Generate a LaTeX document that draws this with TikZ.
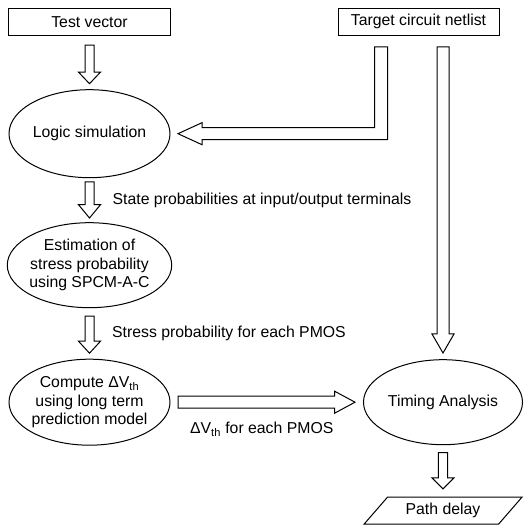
\documentclass[tikz,border=0pt]{standalone}
\usepackage{fontspec}
\setmainfont{Liberation Sans}
\usetikzlibrary{positioning,calc,shapes.geometric}
\tikzset{main base/.style={draw,line width=1pt,text centered,outer sep=0pt}, }
\tikzset{main box/.style={rectangle,main base,
    minimum width=161pt,minimum height=27pt,inner sep=0pt}, }
\tikzset{main ell/.style={ellipse,main base,align=center,
    inner xsep=-2pt,inner ysep=0pt,minimum width=161pt,minimum height=#1}, }
\tikzset{main ell/.default=86pt}
\tikzset{data slant/.initial=11.7pt}
\tikzset{main data/.style={rectangle,outer sep=0pt,
    minimum width=134.5pt,minimum height=27pt,inner sep=0pt,
    append after command={
      \pgfextra{
        \draw[line width=1pt,line join=miter]
        ($(\tikzlastnode.south west)-(\pgfkeysvalueof{/tikz/data slant},0)$) --
        ($(\tikzlastnode.north west)+(\pgfkeysvalueof{/tikz/data slant},0)$) --
        ($(\tikzlastnode.north east)+(\pgfkeysvalueof{/tikz/data slant},0)$) --
        ($(\tikzlastnode.south east)-(\pgfkeysvalueof{/tikz/data slant},0)$) -- cycle;
      }
    }}, }
\tikzset{hollow/.style={draw,line width=1pt,fill=white,line join=miter}}
\tikzset{lbl/.style={inner sep=0pt}, }
% #1 start, #2 tip, #3 half shaft, #4 head length
\newcommand{\hollowdown}[4]{%
  \draw[hollow] let \p1=(#1), \p2=(#2) in
    ({\x2-#3},\y1) -- ({\x2+#3},\y1) -- ({\x2+#3},{\y2+#4})
    -- ({\x2+11},{\y2+#4}) -- (\x2,\y2) -- ({\x2-11},{\y2+#4})
    -- ({\x2-#3},{\y2+#4}) -- cycle;}
\newcommand{\hollowright}[4]{%
  \draw[hollow] let \p1=(#1), \p2=(#2) in
    (\x1,{\y2+#3}) -- ({\x2-#4},{\y2+#3}) -- ({\x2-#4},{\y2+11})
    -- (\x2,\y2) -- ({\x2-#4},{\y2-11}) -- ({\x2-#4},{\y2-#3})
    -- (\x1,{\y2-#3}) -- cycle;}

\begin{document}
\begin{tikzpicture}[x=1pt,y=1pt,
    every node/.style={font=\fontsize{15.8}{18.5}\selectfont}]
  \useasboundingbox (0,0) rectangle (531,528);
    \node[main box,minimum width=162pt] (1) at (89.5,506.3) {Test vector};
    \node[main box] (2) [right=167.5pt of 1] {Target circuit netlist};

    \node[main ell=88pt] (3) [below=54.5pt of 1] {Logic simulation};
    \node[main ell=85pt] (4) [below=45pt of 3] {Estimation of\\stress probability\\using SPCM-A-C};
    \node[main ell] (5) [below=51.5pt of 4] {Compute ΔV\textsubscript{th}\\using long term\\prediction model};

    \node[main ell=85pt,minimum width=159pt] (6) [right=193.5pt of 5] {Timing Analysis};
    \node[main data] (7) [below=52.5pt of 6] {Path delay};

    \node[lbl,anchor=west] (8) at ($(3.south)!.5!(4.north)+(23,0)$) {State probabilities at input/output terminals};
    \node[lbl,anchor=west] (9) at ($(4.south)!.5!(5.north)+(22.5,0)$) {Stress probability for each PMOS};
    \node[lbl] (10) at ($(5.east)!.5!(6.west)+(-5,-27)$) {ΔV\textsubscript{th} for each PMOS};
%
    \hollowdown{$(1.south)+(0,-10)$}{$(3.north)+(0,6)$}{4.5}{11.6}
    \hollowdown{$(3.south)+(0,-4.3)$}{$(4.north)+(0,4.7)$}{4.5}{13.3}
    \hollowdown{$(4.south)+(0,-8.4)$}{$(5.north)+(0,6)$}{4.5}{12}
    \hollowdown{$(6.south)+(0,-8)$}{$(7.north)+(0,8.3)$}{4.7}{11}
    \hollowdown{$(2.south)+(24.5,-11.7)$}{$(6.north)+(0,6.7)$}{6}{19}
    \hollowright{$(5.east)+(8,0)$}{$(6.west)+(-8.5,0)$}{6}{20.4}
    \draw[hollow] let \p1=($(2.south)+(-37.5,-11.7)$), \p2=($(3.east)+(8,0)$) in
      ({\x1-6.5},\y1) -- ({\x1+6.5},\y1) -- ({\x1+6.5},{\y2-6}) -- ({\x2+24},{\y2-6})
      -- ({\x2+24},{\y2-11}) -- (\x2,\y2) -- ({\x2+24},{\y2+11})
      -- ({\x2+24},{\y2+6}) -- ({\x1-6.5},{\y2+6}) -- cycle;
%
\end{tikzpicture}
\end{document}
